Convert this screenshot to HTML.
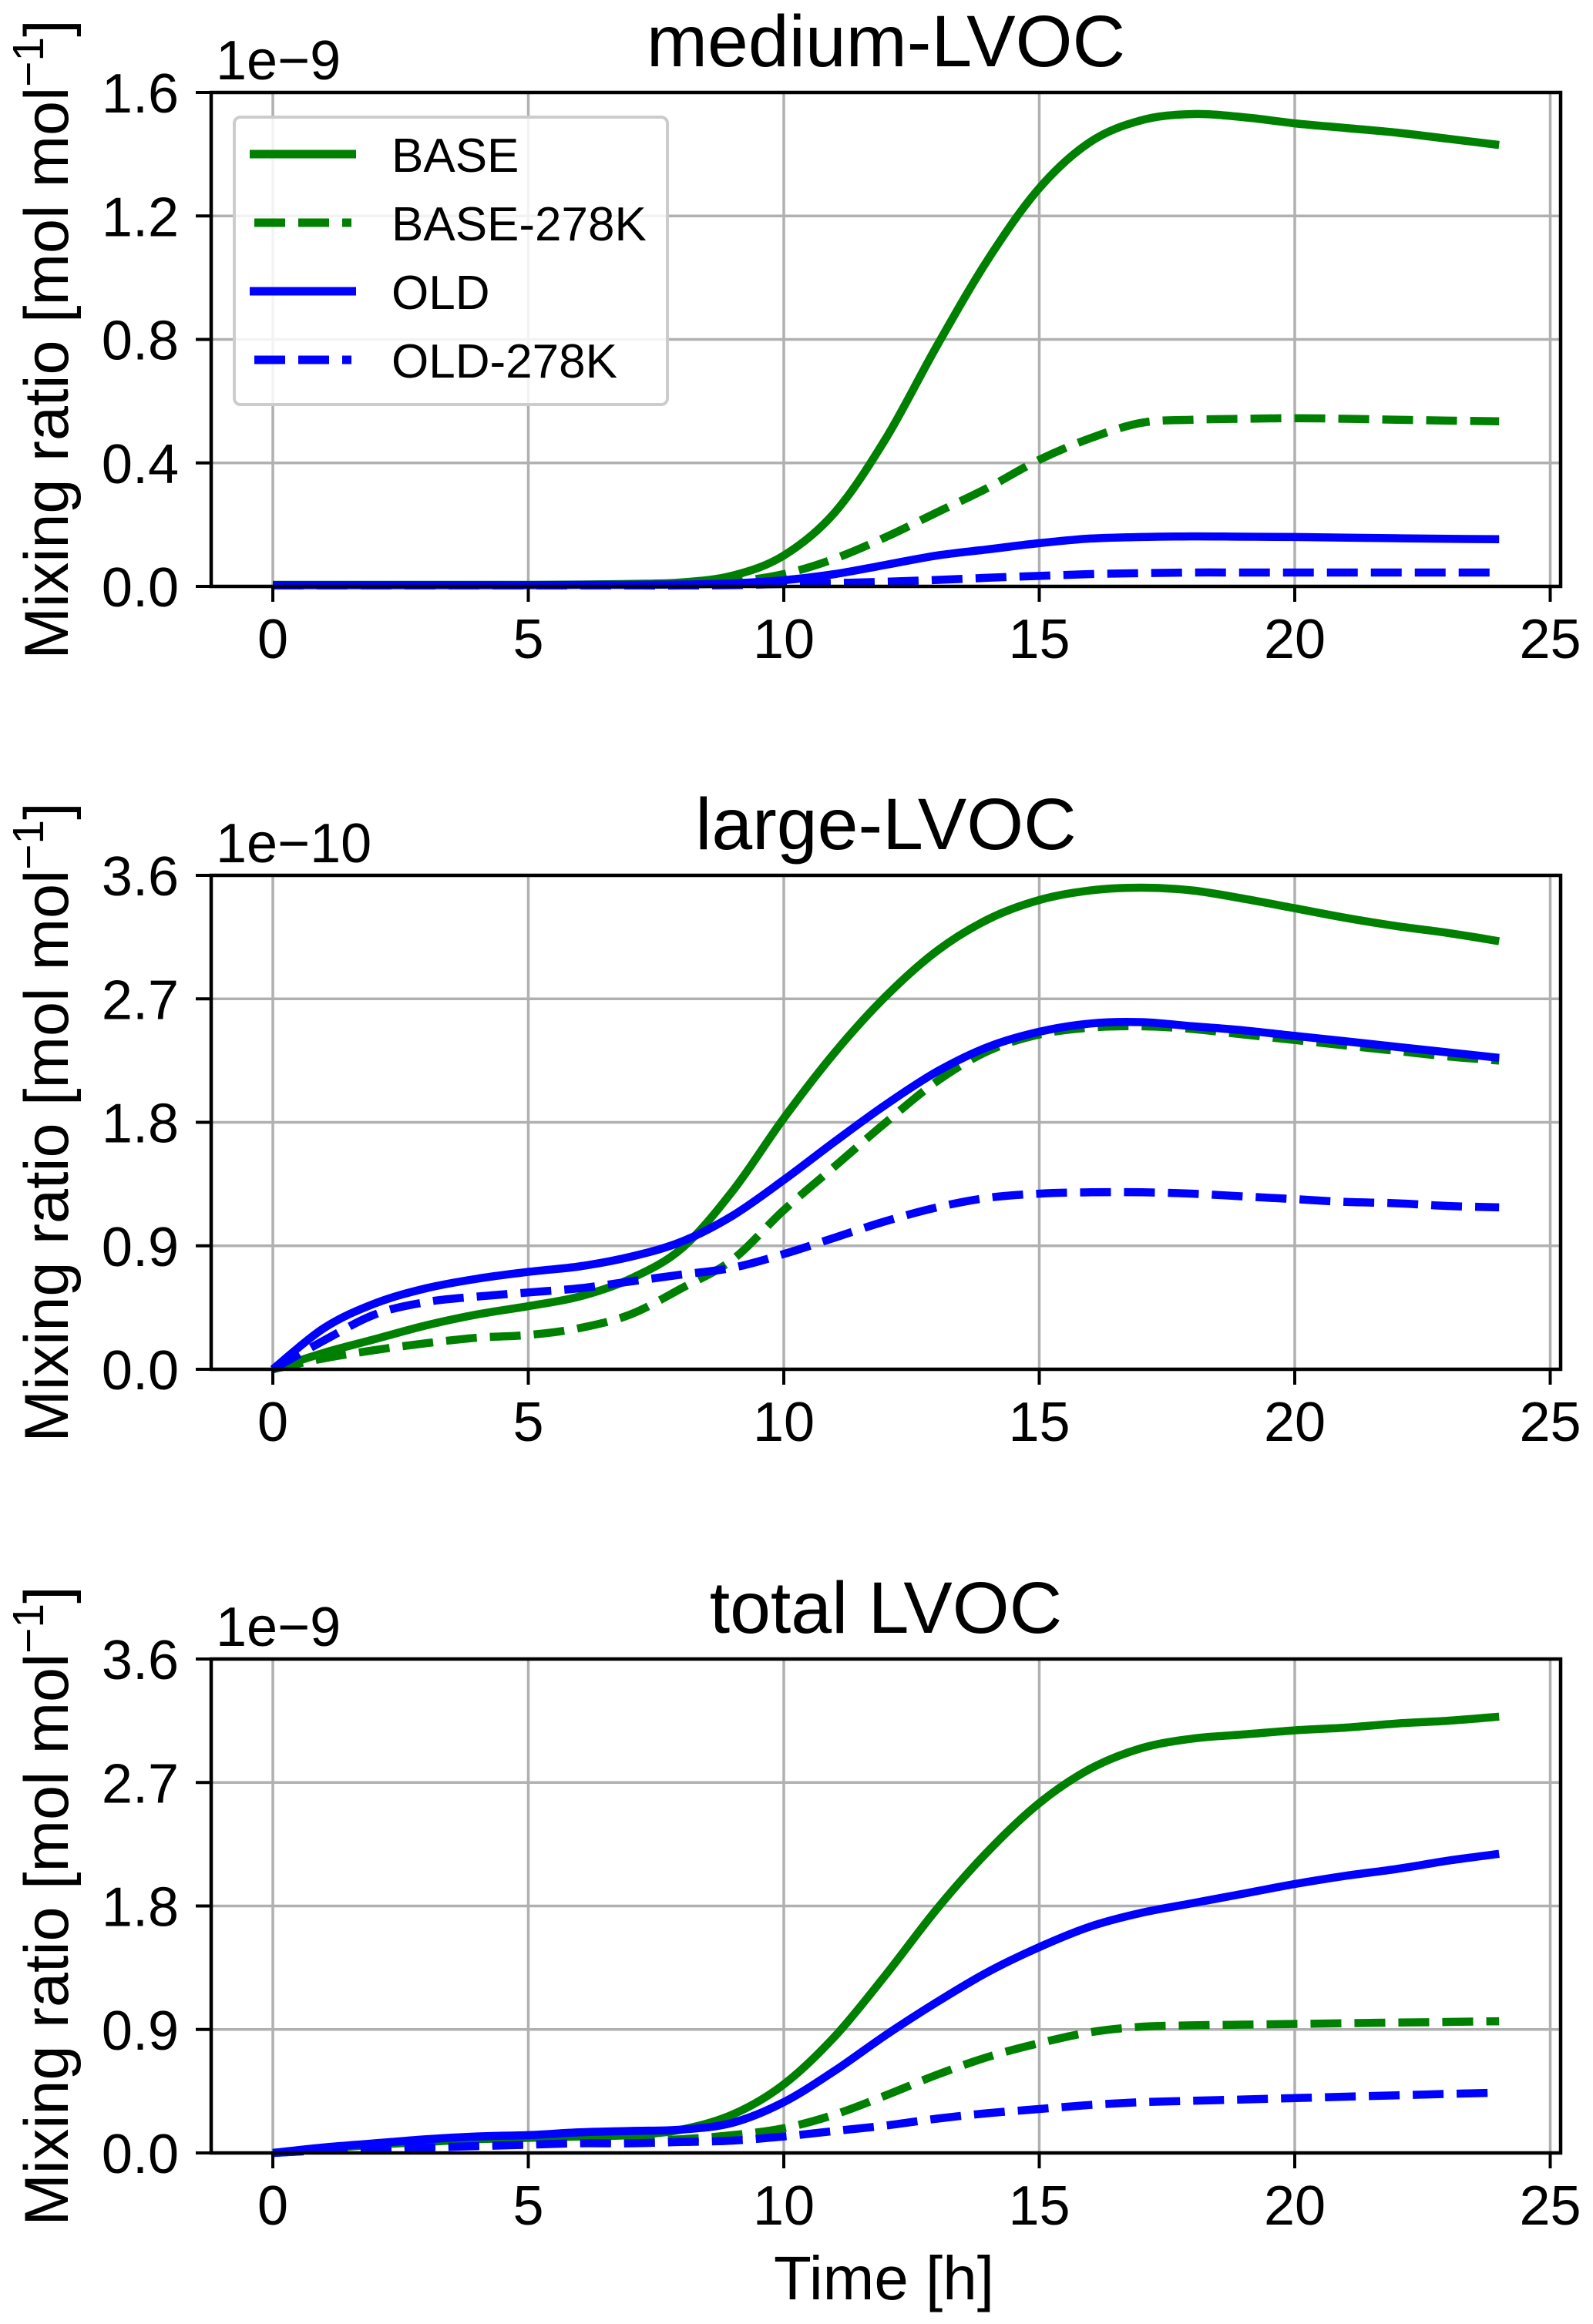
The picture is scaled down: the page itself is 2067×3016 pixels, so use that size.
<!DOCTYPE html>
<html><head><meta charset="utf-8"><title>LVOC mixing ratios</title>
<style>
html,body{margin:0;padding:0;background:#fff;}
svg{display:block;font-family:"Liberation Sans",Arial,sans-serif;}
</style></head>
<body>
<svg id="fig" width="2067" height="3016" viewBox="0 0 2067 3016" xmlns="http://www.w3.org/2000/svg"></svg>
<script>
// ---- data (hours 0..24) ----
const hours = [0,1,2,3,4,5,6,7,8,9,10,11,12,13,14,15,16,17,18,19,20,21,22,23,24];
const xTicks = [0,5,10,15,20,25];
const seriesNames = ["BASE","BASE-278K","OLD","OLD-278K"];
const panelTitles = ["medium-LVOC","large-LVOC","total LVOC"];
const panelOffsets = ["1e\u22129","1e\u221210","1e\u22129"];
const yTicksMedium = [0.0,0.4,0.8,1.2,1.6];
const yTicksLarge = [0.0,0.9,1.8,2.7,3.6];
const yTicksTotal = [0.0,0.9,1.8,2.7,3.6];
const yTickLabelsMedium = ["0.0","0.4","0.8","1.2","1.6"];
const yTickLabelsLarge = ["0.0","0.9","1.8","2.7","3.6"];
const yTickLabelsTotal = ["0.0","0.9","1.8","2.7","3.6"];

const mediumBase = [0.005,0.005,0.005,0.005,0.005,0.005,0.006,0.008,0.013,0.035,0.1,0.24,0.48,0.78,1.06,1.29,1.44,1.51,1.53,1.52,1.5,1.485,1.47,1.45,1.43];
const mediumBase278 = [0.004,0.004,0.004,0.004,0.004,0.004,0.005,0.005,0.006,0.015,0.04,0.09,0.16,0.24,0.32,0.41,0.48,0.53,0.54,0.543,0.545,0.543,0.54,0.537,0.535];
const mediumOld = [0.004,0.004,0.004,0.004,0.004,0.004,0.005,0.005,0.006,0.01,0.02,0.04,0.07,0.1,0.12,0.14,0.155,0.16,0.162,0.161,0.16,0.158,0.156,0.154,0.153];
const mediumOld278 = [0.003,0.003,0.003,0.003,0.003,0.003,0.003,0.003,0.003,0.004,0.008,0.011,0.015,0.021,0.028,0.034,0.04,0.043,0.045,0.045,0.045,0.045,0.045,0.045,0.045];

const largeBase = [0,0.12,0.22,0.32,0.4,0.46,0.53,0.66,0.88,1.30,1.83,2.31,2.72,3.05,3.28,3.42,3.49,3.51,3.49,3.43,3.36,3.29,3.23,3.18,3.12];
const largeBase278 = [0,0.08,0.14,0.19,0.23,0.25,0.30,0.4,0.59,0.80,1.16,1.48,1.80,2.10,2.32,2.44,2.49,2.5,2.48,2.44,2.4,2.36,2.32,2.28,2.25];
const largeOld = [0,0.30,0.48,0.59,0.66,0.71,0.75,0.82,0.93,1.12,1.38,1.66,1.93,2.17,2.35,2.46,2.52,2.53,2.5,2.47,2.43,2.39,2.35,2.31,2.27];
const largeOld278 = [0,0.21,0.40,0.49,0.53,0.56,0.59,0.64,0.69,0.74,0.84,0.96,1.08,1.18,1.25,1.28,1.29,1.29,1.28,1.26,1.24,1.22,1.21,1.19,1.18];

const totalBase = [0,0.03,0.06,0.08,0.1,0.11,0.12,0.13,0.17,0.28,0.5,0.85,1.3,1.78,2.2,2.55,2.8,2.95,3.02,3.05,3.08,3.1,3.13,3.15,3.18];
const totalBase278 = [0,0.02,0.04,0.05,0.06,0.07,0.08,0.09,0.1,0.13,0.18,0.28,0.42,0.57,0.7,0.8,0.88,0.92,0.93,0.935,0.94,0.945,0.95,0.955,0.96];
const totalOld = [0,0.04,0.07,0.1,0.12,0.13,0.15,0.16,0.17,0.22,0.37,0.6,0.86,1.1,1.32,1.5,1.65,1.75,1.82,1.89,1.96,2.02,2.07,2.13,2.18];
const totalOld278 = [0,0.02,0.03,0.04,0.05,0.06,0.07,0.07,0.08,0.09,0.12,0.16,0.2,0.25,0.29,0.32,0.35,0.37,0.38,0.39,0.4,0.41,0.42,0.43,0.44];

// ---- layout ----
const NS = "http://www.w3.org/2000/svg";
const svg = document.getElementById('fig');
const AX_L = 274, AX_R = 2025, AX_H = 641;
const PANEL_TOPS = [120, 1136, 2153];
const X0 = 354, XU = 66.3;
const COLORS = ["#008000","#008000","#0000ff","#0000ff"];
const DASHED = [false,true,false,true];

function el(tag, attrs, parent){
  const e = document.createElementNS(NS, tag);
  for (const k in attrs) e.setAttribute(k, attrs[k]);
  (parent||svg).appendChild(e);
  return e;
}
function xScale(v){ return X0 + v*XU; }
function makeY(top, max){ return v => top + AX_H - v/max*AX_H; }
function smoothPath(pts){
  let d = "M"+pts[0][0].toFixed(1)+","+pts[0][1].toFixed(1);
  for (let i=0;i<pts.length-1;i++){
    const p0=pts[Math.max(0,i-1)], p1=pts[i], p2=pts[i+1], p3=pts[Math.min(pts.length-1,i+2)];
    const c1x=p1[0]+(p2[0]-p0[0])/6, c1y=p1[1]+(p2[1]-p0[1])/6;
    const c2x=p2[0]-(p3[0]-p1[0])/6, c2y=p2[1]-(p3[1]-p1[1])/6;
    d += " C"+c1x.toFixed(1)+","+c1y.toFixed(1)+" "+c2x.toFixed(1)+","+c2y.toFixed(1)+" "+p2[0].toFixed(1)+","+p2[1].toFixed(1);
  }
  return d;
}

const panels = [
  {series:[mediumBase,mediumBase278,mediumOld,mediumOld278], ticks:yTicksMedium, labels:yTickLabelsMedium, max:1.6, key:"medium"},
  {series:[largeBase,largeBase278,largeOld,largeOld278], ticks:yTicksLarge, labels:yTickLabelsLarge, max:3.6, key:"large"},
  {series:[totalBase,totalBase278,totalOld,totalOld278], ticks:yTicksTotal, labels:yTickLabelsTotal, max:3.6, key:"total"}
];

panels.forEach((p, pi) => {
  const top = PANEL_TOPS[pi], bot = top + AX_H;
  const y = makeY(top, p.max);
  const g = el('g', {});
  
  

  xTicks.forEach(t => {
    const gl = el('line', {x1:xScale(t), x2:xScale(t), y1:top, y2:bot, stroke:'#b0b0b0', 'stroke-width':3.5}, g);
    
    
  });
  p.ticks.forEach(t => {
    const gl = el('line', {x1:AX_L, x2:AX_R, y1:y(t), y2:y(t), stroke:'#b0b0b0', 'stroke-width':3.5}, g);
    
    
  });

  p.series.forEach((vals, si) => {
    const pts = hours.map((h, i) => [xScale(h), y(vals[i])]);
    const attrs = {d:smoothPath(pts), fill:'none', stroke:COLORS[si], 'stroke-width':10.5, 'stroke-linejoin':'round'};
    if (DASHED[si]) attrs['stroke-dasharray'] = '40 17';
    const path = el('path', attrs, g);
    
    
  });

  const frame = el('rect', {x:AX_L, y:top, width:AX_R-AX_L, height:AX_H, fill:'none', stroke:'#000', 'stroke-width':4.5}, g);
  
  

  xTicks.forEach(t => {
    const tk = el('line', {x1:xScale(t), x2:xScale(t), y1:bot, y2:bot+20, stroke:'#000', 'stroke-width':4}, g);
    
    
    const tl = el('text', {x:xScale(t), y:bot+93, 'font-size':72, 'text-anchor':'middle', fill:'#000'}, g);
    tl.textContent = String(t);
    
    
  });
  p.ticks.forEach((t, i) => {
    const tk = el('line', {x1:AX_L-20, x2:AX_L, y1:y(t), y2:y(t), stroke:'#000', 'stroke-width':4}, g);
    
    
    const tl = el('text', {x:AX_L-42, y:y(t)+26, 'font-size':72, 'text-anchor':'end', fill:'#000'}, g);
    tl.textContent = p.labels[i];
    
    
  });

  const off = el('text', {x:280, y:top-17, 'font-size':72, fill:'#000'}, g);
  off.textContent = panelOffsets[pi];
  
  

  const ti = el('text', {x:(AX_L+AX_R)/2, y:top-34, 'font-size':95, 'text-anchor':'middle', fill:'#000'}, g);
  ti.textContent = panelTitles[pi];
  
  

  const yc = top + AX_H/2;
  const yl = el('text', {x:0, y:0, 'font-size':81, 'text-anchor':'middle', fill:'#000', transform:'translate(88,'+yc+') rotate(-90)'}, g);
  
  
  const t1 = el('tspan', {}, yl); t1.textContent = 'Mixing ratio [mol mol';
  const t2 = el('tspan', {dy:-32, 'font-size':57}, yl); t2.textContent = '\u22121';
  const t3 = el('tspan', {dy:32}, yl); t3.textContent = ']';
});

const xt = el('text', {x:1147, y:2984, 'font-size':80, 'text-anchor':'middle', fill:'#000'});
xt.textContent = 'Time [h]';



const lg = el('g', {});


const box = el('rect', {x:304, y:152, width:562, height:373, rx:8, fill:'#fff', 'fill-opacity':0.85, stroke:'#cccccc', 'stroke-width':4}, lg);


seriesNames.forEach((n, i) => {
  const cy = 200 + i*89;
  const attrs = {x1:324, x2:462, y1:cy, y2:cy, stroke:COLORS[i], 'stroke-width':11};
  if (DASHED[i]) { attrs['stroke-dasharray'] = '40 17'; attrs.x1 = 330; attrs.x2 = 456; }
  const ln = el('line', attrs, lg);
  
  
  const tx = el('text', {x:508, y:cy+23, 'font-size':62, fill:'#000'}, lg);
  tx.textContent = n;
  
  
});
</script>
</body></html>
